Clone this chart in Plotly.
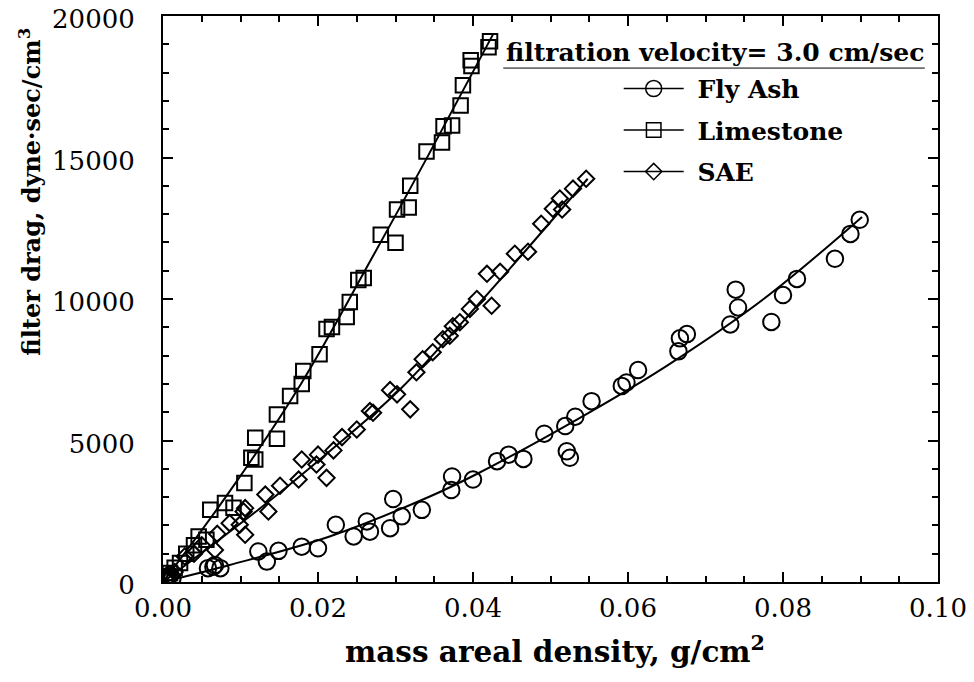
import plotly.graph_objects as go

# --- data (x: g/cm^2, y: dyne*sec/cm^3) ---
flyash_x = [0.0003, 0.0006, 0.0009, 0.0012, 0.0058, 0.0065, 0.0074, 0.0067,
            0.0123, 0.0134, 0.0149, 0.0179, 0.0200, 0.0223, 0.0246, 0.0263,
            0.0267, 0.0293, 0.0297, 0.0308, 0.0334, 0.0373, 0.0372, 0.0400,
            0.0431, 0.0446, 0.0465, 0.0492, 0.0519, 0.0521, 0.0525, 0.0532,
            0.0553, 0.0592, 0.0598, 0.0613, 0.0665, 0.0667, 0.0676, 0.0732,
            0.0742, 0.0739, 0.0785, 0.0800, 0.0818, 0.0867, 0.0887, 0.0899]
flyash_y = [80, 150, 250, 120, 490, 540, 490, 600,
            1080, 720, 1100, 1250, 1190, 2020, 1610, 2140,
            1780, 1900, 2930, 2320, 2550, 3730, 3250, 3620,
            4270, 4500, 4350, 5240, 5510, 4620, 4390, 5840,
            6390, 6930, 7050, 7490, 8150, 8610, 8760, 9100,
            9700, 10330, 9190, 10140, 10710, 11420, 12300, 12800]

lime_x = [0.0003, 0.0006, 0.0009, 0.0015, 0.0022, 0.0030, 0.0040, 0.0046,
          0.0056, 0.0061, 0.0080, 0.0091, 0.0105, 0.0114, 0.0119, 0.0119,
          0.0147, 0.0147, 0.0164, 0.0179, 0.0181, 0.0202, 0.0211, 0.0218,
          0.0237, 0.0241, 0.0252, 0.0259, 0.0281, 0.0300, 0.0302, 0.0317,
          0.0319, 0.0340, 0.0360, 0.0362, 0.0373, 0.0384, 0.0387, 0.0397,
          0.0398, 0.0420, 0.0422]
lime_y = [100, 200, 320, 500, 670, 1000, 1300, 1610,
          1490, 2550, 2790, 2620, 3500, 4390, 4330, 5100,
          5060, 5920, 6570, 7000, 7460, 8050, 8940, 9010,
          9360, 9890, 10670, 10740, 12270, 11990, 13160, 13230,
          14000, 15210, 15530, 16100, 16130, 16840, 17550, 18440,
          18230, 18900, 19110]

sae_x = [0.0005, 0.0010, 0.0015, 0.0028, 0.0040, 0.0050, 0.0067, 0.0070,
         0.0086, 0.0099, 0.0104, 0.0106, 0.0106, 0.0132, 0.0136, 0.0151,
         0.0175, 0.0179, 0.0198, 0.0200, 0.0211, 0.0220, 0.0231, 0.0250,
         0.0267, 0.0271, 0.0293, 0.0302, 0.0319, 0.0327, 0.0335, 0.0348,
         0.0361, 0.0370, 0.0374, 0.0383, 0.0396, 0.0405, 0.0424, 0.0418,
         0.0435, 0.0454, 0.0471, 0.0488, 0.0503, 0.0512, 0.0515, 0.0529,
         0.0546]
sae_y = [100, 200, 350, 900, 1000, 1300, 1130, 1700,
         2080, 2020, 2490, 1670, 2610, 3090, 2490, 3400,
         3620, 4330, 4150, 4500, 3680, 4650, 5120, 5390,
         6040, 5980, 6780, 6630, 6100, 7410, 7870, 8120,
         8580, 8700, 9040, 9180, 9650, 10000, 9760, 10890,
         10960, 11600, 11670, 12660, 13190, 13550, 13160, 13900,
         14250]

# fitted curves, points
flyash_fit_x = [0, 0.0086, 0.0215, 0.0345, 0.0403, 0.0534, 0.0650, 0.0775, 0.0902]
flyash_fit_y = [0, 600, 1610, 3030, 3790, 5740, 7640, 10000, 12900]
lime_fit_x = [0, 0.0086, 0.0178, 0.0269, 0.0340, 0.0426]
lime_fit_y = [0, 3200, 7000, 11420, 14960, 19360]
sae_fit_x = [0, 0.0134, 0.0215, 0.0306, 0.0413, 0.0548]
sae_fit_y = [0, 2790, 4620, 6810, 10000, 14250]

series = [
    ("Fly Ash", flyash_x, flyash_y, flyash_fit_x, flyash_fit_y, "circle-open", 16.5),
    ("Limestone", lime_x, lime_y, lime_fit_x, lime_fit_y, "square-open", 14.5),
    ("SAE", sae_x, sae_y, sae_fit_x, sae_fit_y, "diamond-open", 12.5),
]

SERIF = "DejaVu Serif"

fig = go.Figure()
for name, x, y, fx, fy, sym, sz in series:
    fig.add_trace(go.Scatter(
        x=fx, y=fy, mode="lines", line=dict(color="black", width=2, shape="spline"),
        showlegend=False, hoverinfo="skip"))
    fig.add_trace(go.Scatter(
        x=x, y=y, mode="markers", name=name, showlegend=False,
        marker=dict(symbol=sym, size=sz, color="black", line=dict(width=2, color="black"))))
    # legend entry: line through marker
    fig.add_trace(go.Scatter(
        x=[None], y=[None], mode="lines+markers", name="<b>\u00a0" + name + "</b>", legendgroup=name,
        line=dict(color="black", width=1.5),
        marker=dict(symbol=sym, size=sz, color="black", line=dict(width=1.5, color="black"))))

axis_common = dict(
    showline=True, linecolor="black", linewidth=2, mirror="ticks",
    ticks="inside", ticklen=10, tickwidth=2, tickcolor="black",
    showgrid=False, zeroline=False, automargin=False, ticklabeloverflow="allow",
    tickfont=dict(family=SERIF, size=26, color="black"),
)

fig.update_xaxes(range=[0, 0.10], tickvals=[0, 0.02, 0.04, 0.06, 0.08, 0.10],
                 ticktext=["0.00", "0.02", "0.04", "0.06", "0.08", "0.10"],
                 minor=dict(dtick=0.005, ticks="inside", ticklen=6, tickwidth=1.5, tickcolor="black"),
                 ticklabelstandoff=2, **axis_common)
fig.update_yaxes(range=[0, 20000], dtick=5000, tickformat="d",
                 minor=dict(dtick=1000, ticks="inside", ticklen=6, tickwidth=1.5, tickcolor="black"),
                 ticklabelstandoff=21, ticklabelshift=3, **axis_common)

fig.add_annotation(text="<b>filter drag, dyne·sec/cm<sup>3</sup></b>", textangle=-90,
                   xref="paper", yref="paper", x=-0.172, y=0.689, xanchor="center", yanchor="middle",
                   showarrow=False, font=dict(family=SERIF, size=24, color="black"))
fig.add_annotation(text="<b>mass areal density, g/cm<sup>2</sup></b>",
                   xref="paper", yref="paper", x=0.506, y=-0.12, xanchor="center", yanchor="middle",
                   showarrow=False, font=dict(family=SERIF, size=29.5, color="black"))
fig.add_annotation(text="<b>filtration velocity= 3.0 cm/sec</b>",
                   xref="paper", yref="paper", x=0.712, y=0.936, xanchor="center", yanchor="middle",
                   showarrow=False, font=dict(family=SERIF, size=25, color="black"))
fig.add_shape(type="line", xref="paper", yref="paper", x0=0.439, x1=0.983, y0=0.908, y1=0.908,
              line=dict(color="black", width=1))

# page body has an 8px margin, so the figure is trimmed by that much
fig.update_layout(
    width=966, height=674,
    margin=dict(l=155, r=36, t=8, b=100, autoexpand=False),
    paper_bgcolor="white", plot_bgcolor="white",
    legend=dict(x=0.588, y=0.912, xanchor="left", yanchor="top",
                bgcolor="rgba(0,0,0,0)", itemwidth=60, tracegroupgap=6,
                font=dict(family=SERIF, size=25, color="black")),
)

fig.write_html("out.html")
